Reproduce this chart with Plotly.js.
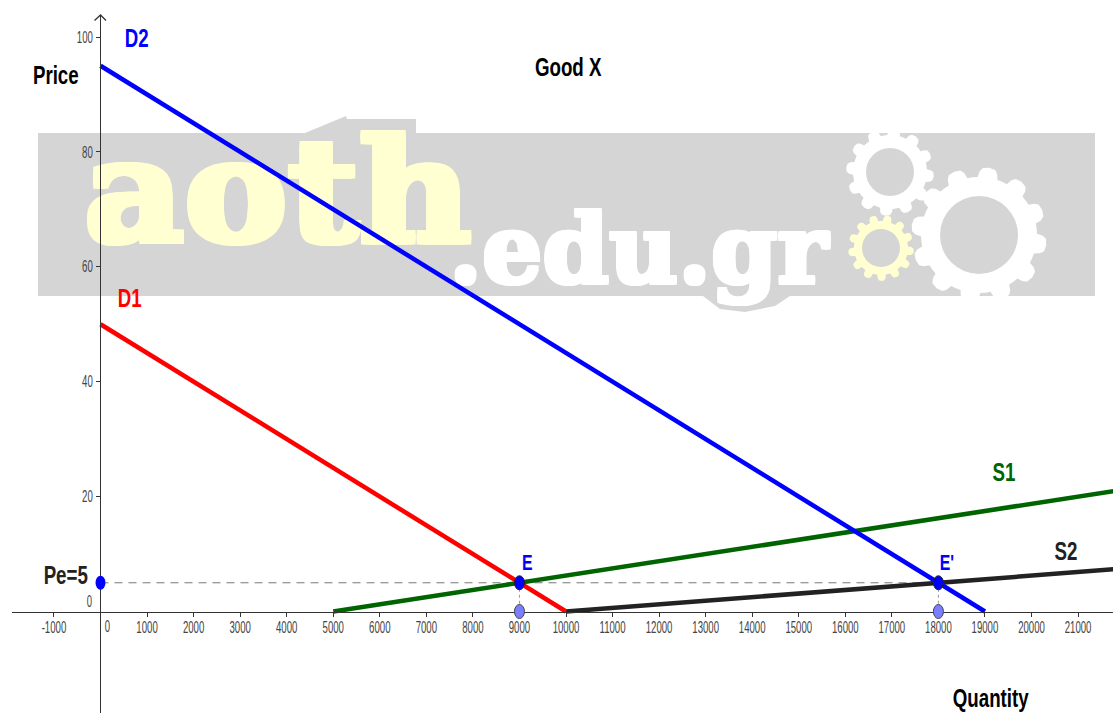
<!DOCTYPE html>
<html>
<head>
<meta charset="utf-8">
<script src="https://cdn.plot.ly/plotly-3.0.1.min.js"></script>
<style>html,body{margin:0;padding:0;background:#fff;overflow:hidden}#chart{width:1113px;height:713px}</style>
</head>
<body>
<div id="chart"></div>
<script>
// ---- data ----
const d1Qty = [0, 10000];
const d1Price = [50, 0];
const d2Qty = [0, 19000];
const d2Price = [95, 0];
const s1Qty = [5000, 22000];
const s1Price = [0, 21.25];
const s2Qty = [10000, 22000];
const s2Price = [0, 7.5];
const guideQty = [0, 18000];
const guidePrice = [5, 5];
const equilibriumQty = [9000, 18000];
const equilibriumPrice = [5, 5];
const baseQty = [9000, 18000];
const basePrice = [0, 0];
const priceMarkQty = [0];
const priceMarkPrice = [5];
const xTicks = [-1000,1000,2000,3000,4000,5000,6000,7000,8000,9000,10000,11000,12000,13000,14000,15000,16000,17000,18000,19000,20000,21000];
const yTicks = [20,40,60,80,100];

// ---- frame ----
const W = 1113, H = 713;
const X0 = 100.5, XS = 0.04655, Y0 = 611.5, YS = 5.745;
const xLeftPx = 12, yTopPx = 15;
const toQty = px => (px - X0) / XS;
const toPrice = py => (Y0 - py) / YS;
const PX = px => px / W;
const PY = py => 1 - py / H;
const SANS = '"Liberation Sans",Arial,sans-serif';
const SLAB = '"DejaVu Serif",serif';

// ---- watermark decoration ----
const GRAY = '#d5d5d5', YEL = '#ffffd2';
function poly(points, fill) {
  const d = points.map((p, i) => (i ? 'L' : 'M') + PX(p[0]).toFixed(5) + ',' + PY(p[1]).toFixed(5)).join(' ') + ' Z';
  return {type:'path', xref:'paper', yref:'paper', path:d, fillcolor:fill, line:{width:0}, layer:'below'};
}
function disc(cx, cy, r, fill) {
  return {type:'circle', xref:'paper', yref:'paper', x0:PX(cx-r), x1:PX(cx+r), y0:PY(cy+r), y1:PY(cy-r), fillcolor:fill, line:{width:0}, layer:'below'};
}
function gear(cx, cy, rOut, rIn, teeth, fill, rot) {
  const pts = [];
  for (let i = 0; i < teeth; i++) {
    const a = rot + i * 2 * Math.PI / teeth, s = 2 * Math.PI / teeth;
    [[-0.5,rIn],[-0.33,rIn],[-0.27,rIn+(rOut-rIn)*0.55],[-0.18,rOut-(rOut-rIn)*0.1],[0,rOut],[0.18,rOut-(rOut-rIn)*0.1],[0.27,rIn+(rOut-rIn)*0.55],[0.33,rIn]].forEach(o => {
      pts.push([cx + o[1]*Math.cos(a+o[0]*s), cy + o[1]*Math.sin(a+o[0]*s)]);
    });
  }
  return poly(pts, fill);
}
const watermark = [
  poly([[305,133],[346,116],[347,119],[416,119],[416,133]], GRAY),
  poly([[38,133],[1095,133],[1095,296],[38,296]], GRAY),
  poly([[703,296],[790,296],[775,306],[745,312],[720,309]], GRAY),
  gear(890,172,44,37,12,'#ffffff',0.1), disc(890,172,24,GRAY),
  gear(979,235,68,58,12,'#ffffff',0.15), disc(979,235,39,GRAY),
  gear(881,248,33,27,13,YEL,0.1), disc(881,248,19,GRAY)
];

// ---- axis arrow + oval points ----
const arrow = {type:'path', xref:'paper', yref:'paper',
  path:`M${PX(94.5)},${PY(20.5)} L${PX(100.5)},${PY(15)} L${PX(106)},${PY(20.5)}`,
  line:{color:'#333', width:1.3}, layer:'above'};
function oval(q, p, fill, border) {
  return {type:'circle', xref:'x', yref:'y', x0:q-5/XS, x1:q+5/XS, y0:p-7/YS, y1:p+7/YS, fillcolor:fill,
    line:{color:border, width:border==='rgba(0,0,0,0)'?0:1}, layer:'above'};
}
const ovals = [
  ...equilibriumQty.map((q,i)=>oval(q,equilibriumPrice[i],'#0000ff','#222222')),
  ...baseQty.map((q,i)=>oval(q,basePrice[i],'#7d7dff','#444444')),
  oval(priceMarkQty[0],priceMarkPrice[0],'#0000ff','rgba(0,0,0,0)')
];

// ---- traces ----
function line(x, y, color, width, dash) {
  return {x, y, type:'scatter', mode:'lines', hoverinfo:'skip', line:{color, width, dash:dash||'solid'}};
}
function wordmark(text, px, py, size, color, h) {
  const c = color;
  return {x:[toQty(px)], y:[toPrice(py)], text:[text], type:'scatter', mode:'text', textposition:'middle right', hoverinfo:'skip', cliponaxis:false,
    textfont:{family:SLAB, size, color, weight:700, shadow:`${h}px 0 ${c}, -${h}px 0 ${c}, 0 ${h}px ${c}, 0 -${h}px ${c}, ${h}px ${h}px ${c}, -${h}px -${h}px ${c}, ${h}px -${h}px ${c}, -${h}px ${h}px ${c}`}};
}
const traces = [
  wordmark('aoth', 84, 205, 142, YEL, 3),
  wordmark('.edu.gr', 449, 259, 95, '#ffffff', 2),
  line(guideQty, guidePrice, '#777777', 1, '8px,6px'),
  line([equilibriumQty[0],baseQty[0]], [equilibriumPrice[0],basePrice[0]], '#999999', 1, '3px,3px'),
  line([equilibriumQty[1],baseQty[1]], [equilibriumPrice[1],basePrice[1]], '#999999', 1, '3px,3px'),
  line(s1Qty, s1Price, '#006400', 4.5),
  line(s2Qty, s2Price, '#222222', 4.5),
  line(d1Qty, d1Price, '#ff0000', 4.5),
  line(d2Qty, d2Price, '#0000ff', 4.5),
  {x:equilibriumQty, y:equilibriumPrice, type:'scatter', mode:'markers', hoverinfo:'skip', marker:{color:'#0000ff', size:9}},
  {x:baseQty, y:basePrice, type:'scatter', mode:'markers', hoverinfo:'skip', marker:{color:'#7d7dff', size:9}},
  {x:priceMarkQty, y:priceMarkPrice, type:'scatter', mode:'markers', hoverinfo:'skip', marker:{color:'#0000ff', size:9}}
];

// ---- labels ----
function label(text, cx, cy, color, size, bold) {
  return {xref:'paper', yref:'paper', x:PX(cx), y:PY(cy), xanchor:'center', yanchor:'middle', showarrow:false, text,
    font:{family:SANS, size, color, weight:bold===false?400:700}};
}
const labels = [
  label('D2', 136.5, 38, '#0000ff', 26),
  label('Price', 56.5, 75, '#000000', 26),
  label('Good X', 568.5, 67, '#000000', 26),
  label('D1', 129, 298, '#ff0000', 26),
  label('S1', 1004, 472, '#006400', 26),
  label('S2', 1065.5, 551, '#222222', 26),
  label('E', 527, 562, '#0000ff', 22),
  label("E'", 946.5, 562, '#0000ff', 22),
  label('Pe=5', 65, 575, '#222222', 26),
  label('Quantity', 990.5, 697.5, '#000000', 26),
  label('0', 107.5, 626, '#444444', 16, false),
  label('0', 89.5, 601, '#444444', 16, false)
];

const tickStyle = {family:SANS, size:16, color:'#444444'};
const layout = {
  width:W, height:H, margin:{l:0,r:0,t:0,b:0}, paper_bgcolor:'#ffffff', plot_bgcolor:'rgba(0,0,0,0)', showlegend:false,
  xaxis:{domain:[xLeftPx/W,1], range:[toQty(xLeftPx),toQty(W)], anchor:'free', position:(H-Y0)/H, tickmode:'array',
    tickvals:xTicks, ticktext:xTicks.map(String), ticks:'outside', ticklen:4, tickcolor:'#333', tickwidth:1, ticklabelstandoff:-3,
    showline:true, linecolor:'#333', linewidth:1.3, showgrid:false, zeroline:false, tickfont:tickStyle, tickangle:0},
  yaxis:{domain:[0,1-yTopPx/H], range:[toPrice(H),toPrice(yTopPx)], anchor:'free', position:(X0-0.5)/W, tickmode:'array',
    tickvals:yTicks, ticktext:yTicks.map(String), ticks:'outside', ticklen:4, tickcolor:'#333', tickwidth:1,
    showline:true, linecolor:'#333', linewidth:1.3, showgrid:false, zeroline:false, tickfont:tickStyle},
  shapes:[...watermark, arrow, ...ovals],
  annotations:labels
};
function squeeze(t, factor) {
  t.setAttribute('textLength', (t.getComputedTextLength() * factor).toFixed(1));
  t.setAttribute('lengthAdjust', 'spacingAndGlyphs');
}
Plotly.newPlot('chart', traces, layout, {displayModeBar:false, staticPlot:true}).then(() => {
  // the reference's text is horizontally distorted: scale the drawn glyphs without changing the text
  document.querySelectorAll('.annotation-text, .xtick text, .ytick text').forEach(t => {
    squeeze(t, parseFloat(getComputedStyle(t).fontSize) < 20 ? 0.6 : 0.72);
  });
  document.querySelectorAll('.textpoint text').forEach(t => {
    if (t.textContent === 'aoth') squeeze(t, 1.09);
  });
});
</script>
</body>
</html>
